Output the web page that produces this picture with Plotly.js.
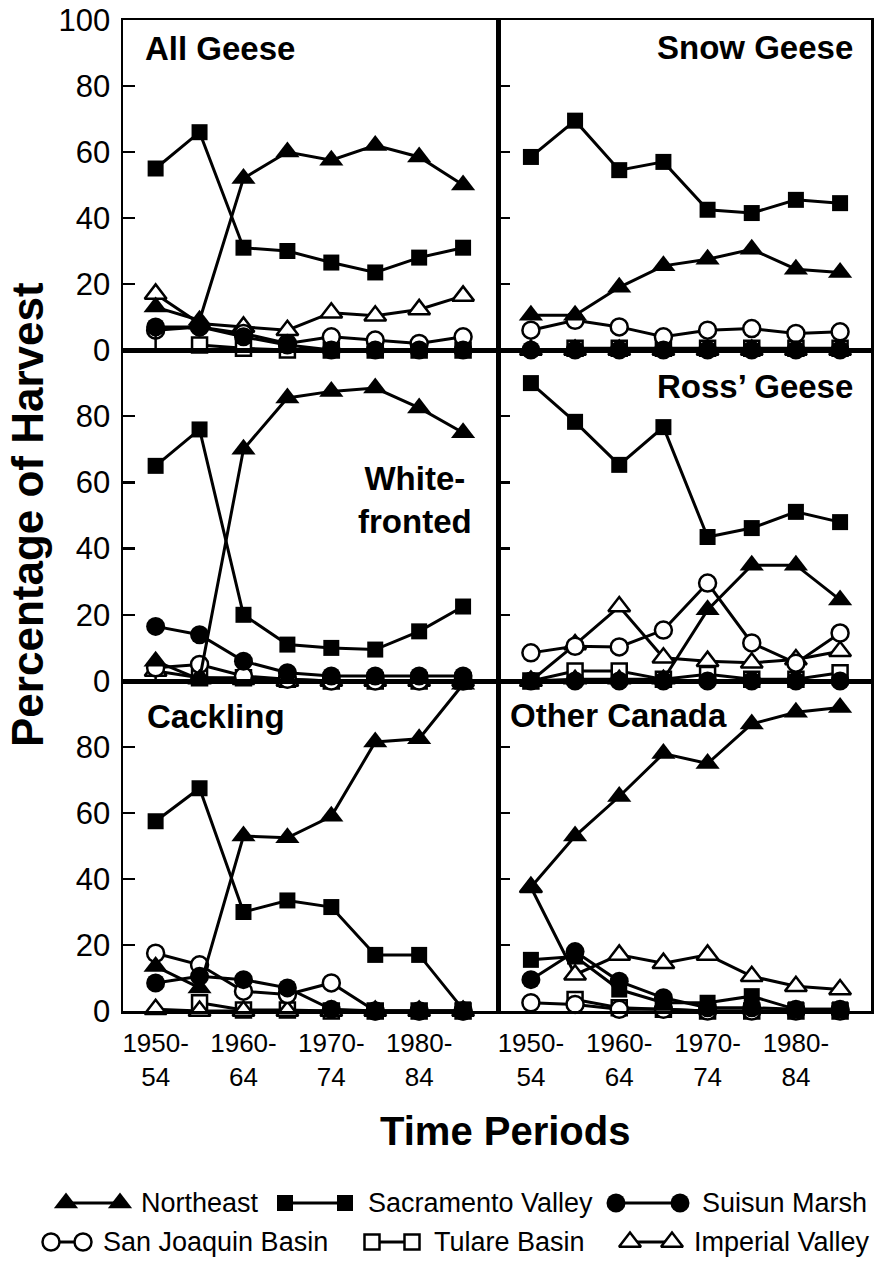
<!DOCTYPE html>
<html><head><meta charset="utf-8">
<script src="https://cdn.plot.ly/plotly-3.0.1.min.js"></script>
<style>html,body{margin:0;padding:0;background:#fff}#chart{width:884px;height:1262px}</style>
</head><body><div id="chart"></div>
<script>
// ---------------- DATA ----------------
const periods = ["1950-54","1955-59","1960-64","1965-69","1970-74","1975-79","1980-84","1985-89"];
const tickPeriods = ["1950-54","1960-64","1970-74","1980-84"];
const tickLabels = ["1950-<br>54","1960-<br>64","1970-<br>74","1980-<br>84"];
const regions = ["Northeast","Sacramento Valley","Suisun Marsh","San Joaquin Basin","Tulare Basin","Imperial Valley"];
const panelTitles = ["All Geese","Snow Geese","White-<br>fronted","Ross\u2019 Geese","Cackling","Other Canada"];

// All Geese
const allNE  = [13, 9, 52, 60, 57.5, 62, 58.5, 50];
const allSAC = [55, 66, 31, 30, 26.5, 23.5, 28, 31];
const allSUI = [7, 7, 4, 1.5, 0, 0, 0, 0];
const allSJB = [6, 7, 5, 2, 4, 3, 2, 4];
const allTUL = [null, 1.5, 0.5, 0, 0, 0, 0, 0];
const allIMP = [17, 8, 7, 6, 11.3, 10.4, 12.3, 16.4];
// Snow Geese
const snowNE  = [10.5, 10.5, 19, 25.5, 27.5, 30.5, 24.5, 23.5];
const snowSAC = [58.5, 69.5, 54.5, 57, 42.5, 41.5, 45.5, 44.5];
const snowSUI = [0, 0, 0, 0, 0, 0, 0, 0];
const snowSJB = [6, 9, 7, 4, 6, 6.5, 5, 5.5];
const snowTUL = [null, 0.5, 0.5, 0.5, 0.5, 0.5, 0.5, 0.5];
const snowIMP = [0, 0, 0, 0, 0, 0, 0, 0];
// White-fronted
const wfNE  = [6, 0.5, 70, 85.5, 87.5, 88.5, 82.5, 75];
const wfSAC = [65, 76, 20, 11, 10, 9.5, 15, 22.5];
const wfSUI = [16.5, 14, 6, 2.5, 1.5, 1.5, 1.5, 1.5];
const wfSJB = [4, 5, 1.5, 0.5, 0, 0, 0, 0];
const wfTUL = [null, 1, 1, 0.5, 0, 0, 0, 0];
const wfIMP = [3, 1, 0.5, 0, 0, 0, 0, 0];
// Ross' Geese
const rossNE  = [0, 0.5, 0.5, 0.5, 21.5, 35, 35, 24.5];
const rossSAC = [90, 78.3, 65.3, 76.7, 43.5, 46.2, 51.1, 48];
const rossSUI = [0, 0, 0, 0, 0, 0, 0, 0];
const rossSJB = [8.5, 10.5, 10.3, 15.4, 29.6, 11.5, 5.4, 14.5];
const rossTUL = [0, 3, 3, 0.5, 2, 0.5, 0.5, 2.5];
const rossIMP = [0, 11, 22.5, 7, 6, 5.5, 6.5, 9];
// Cackling
const cackNE  = [13.5, 7, 53, 52.5, 59, 81.5, 82.5, 99];
const cackSAC = [57.5, 67.5, 30, 33.5, 31.5, 17, 17, 0.5];
const cackSUI = [8.5, 10.5, 9.5, 7, 0.5, 0, 0, 0];
const cackSJB = [17.5, 14, 6, 5, 8.5, 0, 0, 0];
const cackTUL = [null, 2.5, 0.3, 0.3, 0, 0, 0, 0];
const cackIMP = [0.5, 0, 0, 0, 0, 0, 0, 0];
// Other Canada
const ocNE  = [37.5, 53, 65, 78, 75, 87, 90.5, 92];
const ocSAC = [15.5, 16.5, 6.5, 2.5, 2.5, 4.5, 0.5, 0.5];
const ocSUI = [9.5, 18, 9, 4, 1, 1, 0.5, 0.5];
const ocSJB = [2.5, 2, 0.5, 0.5, 0, 0, 0, 0];
const ocTUL = [null, 3.5, 1, 0.5, 0, 0, 0, 0];
const ocIMP = [37.5, 11, 17, 14.5, 17, 10.5, 7.5, 6.5];

// series per panel, in region order
const panelData = [
  [allNE, allSAC, allSUI, allSJB, allTUL, allIMP],
  [snowNE, snowSAC, snowSUI, snowSJB, snowTUL, snowIMP],
  [wfNE, wfSAC, wfSUI, wfSJB, wfTUL, wfIMP],
  [rossNE, rossSAC, rossSUI, rossSJB, rossTUL, rossIMP],
  [cackNE, cackSAC, cackSUI, cackSJB, cackTUL, cackIMP],
  [ocNE, ocSAC, ocSUI, ocSJB, ocTUL, ocIMP]
];
// points with a drop stem to zero: [panel, region, period index]
const stems = [[0, 2, 0], [2, 3, 0]];

// ---------------- STYLE / LAYOUT ----------------
const W = 884, H = 1262;
const px = x => x / W, py = y => 1 - y / H;
const colPx = [[123, 498], [498, 871]];
const rowPx = [[20, 350], [350, 681], [681, 1011]];
const colRange = [[-0.743, 7.795], [-0.745, 7.70]];
const SANS = "Liberation Sans, Arial, Helvetica, sans-serif";

const styles = [
  {symbol: "triangle-up", size: 21, color: "black", lw: 0},
  {symbol: "square", size: 16, color: "black", lw: 0},
  {symbol: "circle", size: 19, color: "black", lw: 0},
  {symbol: "circle", size: 17, color: "white", lw: 2.5},
  {symbol: "square", size: 15, color: "white", lw: 2.5},
  {symbol: "triangle-up", size: 19, color: "white", lw: 2.5}
];
const drawOrder = [4, 5, 3, 2, 1, 0];

const traces = [];
const layout = {
  width: W, height: H,
  margin: {l: 0, r: 0, t: 0, b: 0},
  paper_bgcolor: "white", plot_bgcolor: "rgba(0,0,0,0)",
  showlegend: false,
  font: {family: SANS, color: "black"},
  annotations: [], shapes: []
};

for (let p = 0; p < 6; p++) {
  const r = Math.floor(p / 2), c = p % 2, n = p + 1;
  const xa = "xaxis" + (n === 1 ? "" : n), ya = "yaxis" + (n === 1 ? "" : n);
  const xr = "x" + (n === 1 ? "" : n), yr = "y" + (n === 1 ? "" : n);
  layout[xa] = {
    domain: [px(colPx[c][0]), px(colPx[c][1])],
    anchor: yr, type: "category", range: colRange[c],
    showline: true, mirror: true, linewidth: 2.5, linecolor: "black",
    showgrid: false, zeroline: false, ticks: "",
    tickvals: tickPeriods, ticktext: tickLabels,
    showticklabels: r === 2,
    tickfont: {family: SANS, size: 26, color: "black"},
    ticklabelstandoff: 7, fixedrange: true
  };
  layout[ya] = {
    domain: [py(rowPx[r][1]), py(rowPx[r][0])],
    anchor: xr, range: [0, 100],
    showline: true, mirror: true, linewidth: 2.5, linecolor: "black",
    showgrid: false, zeroline: false,
    ticks: "inside", ticklen: 12, tickwidth: 2.5, tickcolor: "black",
    tickvals: r === 0 ? [0, 20, 40, 60, 80, 100] : [0, 20, 40, 60, 80],
    showticklabels: c === 0,
    tickfont: {family: SANS, size: 31, color: "black"},
    ticklabelstandoff: 4, fixedrange: true
  };
  for (const k of drawOrder) {
    const s = styles[k];
    const vals = panelData[p][k];
    const tr = {
      type: "scatter", mode: "lines+markers", name: regions[k],
      x: periods, y: vals, xaxis: xr, yaxis: yr, cliponaxis: false,
      line: {color: "black", width: 3},
      marker: {symbol: s.symbol, size: s.size, color: s.color, line: {color: "black", width: s.lw}},
      hoverinfo: "skip"
    };
    const st = stems.filter(q => q[0] === p && q[1] === k);
    if (st.length) {
      tr.error_y = {type: "data", symmetric: false, color: "black", thickness: 2.5, width: 0,
        array: vals.map(() => 0),
        arrayminus: vals.map((v, i) => st.some(q => q[2] === i) ? v : 0)};
    }
    traces.push(tr);
  }
}

// panel titles
const titlePos = [
  {x: 143, y: 48, xa: "left"}, {x: 855, y: 47, xa: "right"},
  {x: 415, y: 500, xa: "center"}, {x: 855, y: 387, xa: "right"},
  {x: 145, y: 717, xa: "left"}, {x: 508, y: 715, xa: "left"}
];
panelTitles.forEach((t, i) => {
  layout.annotations.push({
    text: t, xref: "paper", yref: "paper", x: px(titlePos[i].x), y: py(titlePos[i].y),
    xanchor: titlePos[i].xa, yanchor: "middle", align: "center", showarrow: false,
    font: {family: SANS, size: 33, weight: "bold", color: "black"}
  });
});
// axis titles
layout.annotations.push({
  text: "Percentage of Harvest", xref: "paper", yref: "paper", x: px(28), y: py(515),
  xanchor: "center", yanchor: "middle", textangle: -90, showarrow: false,
  font: {family: SANS, size: 44, weight: "bold", color: "black"}
});
layout.annotations.push({
  text: "Time Periods", xref: "paper", yref: "paper", x: px(505), y: py(1131),
  xanchor: "center", yanchor: "middle", showarrow: false,
  font: {family: SANS, size: 40, weight: "bold", color: "black"}
});

// legend drawn on a pixel-coordinate overlay axis
layout.xaxis7 = {domain: [0, 1], range: [0, W], visible: false, anchor: "y7", fixedrange: true};
layout.yaxis7 = {domain: [0, 1], range: [H, 0], visible: false, anchor: "x7", fixedrange: true};
const legendItems = [
  {k: 0, y: 1203, m: [66, 120], tx: 139},
  {k: 1, y: 1203, m: [285, 345], tx: 366},
  {k: 2, y: 1203, m: [616, 680], tx: 700},
  {k: 3, y: 1242, m: [51, 83], tx: 101},
  {k: 4, y: 1242, m: [372, 412], tx: 432},
  {k: 5, y: 1242, m: [630, 672], tx: 692}
];
legendItems.forEach(it => {
  const s = styles[it.k];
  traces.push({
    type: "scatter", mode: "lines+markers", x: it.m, y: [it.y, it.y], xaxis: "x7", yaxis: "y7",
    cliponaxis: false, hoverinfo: "skip",
    line: {color: "black", width: 3},
    marker: {symbol: s.symbol, size: s.size, color: s.color, line: {color: "black", width: s.lw}}
  });
  layout.annotations.push({
    text: regions[it.k], xref: "paper", yref: "paper", x: px(it.tx), y: py(it.y),
    xanchor: "left", yanchor: "middle", showarrow: false,
    font: {family: SANS, size: 27, color: "black"}
  });
});

Plotly.newPlot("chart", traces, layout, {staticPlot: true, displayModeBar: false});
</script>
</body></html>
